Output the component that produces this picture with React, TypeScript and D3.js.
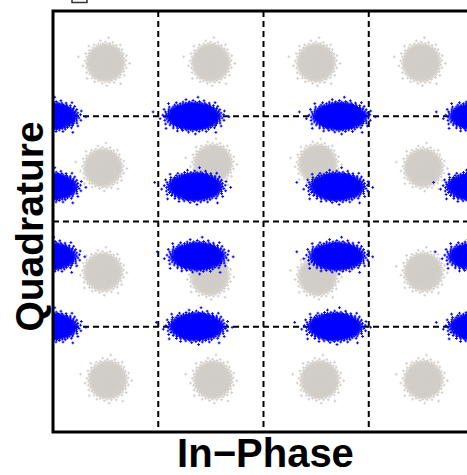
import React from 'react';
import * as d3 from 'd3';

const W = 467
const H = 475

// axis domain (In-Phase / Quadrature) and dashed grid positions
const iDomain = [-4, 4]
const qDomain = [-4, 4]
const gridTicks = [-2, 0, 2]

// gray reference constellation (cluster centres)
const grayI = [-3, -1, 1, 3, -3.05, -0.96, 1.03, 3.04, -3.05, -1.02, 1.03, 3.04, -2.96, -0.96, 1.07, 3.04]
const grayQ = [3.02, 3.02, 3.02, 3.02, 1.02, 1.1, 1.1, 1.02, -0.96, -1.04, -1.04, -0.96, -3.01, -3.01, -3.01, -3.01]

// received (blue) clusters
const blueI = [-4.05, -1.33, 1.45, 4.05, -4.05, -1.3, 1.4, 4.0, -4.07, -1.25, 1.4, 4.03, -4.05, -1.27, 1.36, 4.05]
const blueQ = [2.0, 2.0, 2.0, 2.0, 0.66, 0.66, 0.66, 0.66, -0.66, -0.66, -0.66, -0.66, -2.0, -2.0, -2.0, -2.0]

// cluster spread (data units)
const graySigma = 0.128
const blueSigmaI = 0.19
const blueSigmaQ = 0.098
const samplesPerCluster = 2500

const colors = {
  gray: '#d2cec8',
  blue: '#0000ff',
}

const margin = { left: 53, top: 11, right: 474, bottom: 432 }

// deterministic gaussian-like spread: quantile radius + golden-angle spiral
function cloudPath(cx, cy, sx, sy, n, arm) {
  const golden = Math.PI * (3 - Math.sqrt(5))
  let d = ''
  for (let i = 0; i < n; i++) {
    const u = (i + 0.5) / n
    const r = Math.sqrt(-2 * Math.log(1 - u))
    const t = i * golden
    const px = cx + sx * r * Math.cos(t)
    const py = cy + sy * r * Math.sin(t)
    d += `M${(px - arm).toFixed(1)},${py.toFixed(1)}h${2 * arm}M${px.toFixed(1)},${(py - arm).toFixed(1)}v${2 * arm}`
  }
  return d
}

export default function App() {
  const x = d3.scaleLinear().domain(iDomain).range([margin.left, margin.right])
  const y = d3.scaleLinear().domain(qDomain).range([margin.bottom, margin.top])
  const unitX = x(1) - x(0)
  const unitY = y(0) - y(1)

  const grayPaths = grayI.map((v, k) =>
    cloudPath(x(v), y(grayQ[k]), graySigma * unitX, graySigma * unitY, samplesPerCluster, 1.4)
  )
  const bluePaths = blueI.map((v, k) =>
    cloudPath(x(v), y(blueQ[k]), blueSigmaI * unitX, blueSigmaQ * unitY, samplesPerCluster, 1.4)
  )

  return (
    <svg
      width={W}
      height={H}
      style={{ position: 'absolute', left: 0, top: 0, background: 'white' }}
      fontFamily="'Liberation Sans', Arial, sans-serif"
    >
      <defs>
        <clipPath id="plot">
          <rect x={margin.left} y={margin.top} width={margin.right - margin.left} height={margin.bottom - margin.top} />
        </clipPath>
      </defs>

      {/* remnant of the legend box above the panel */}
      <path d="M72,0V2.5H87V0" fill="none" stroke="#333" strokeWidth={1.5} />

      <g clipPath="url(#plot)">
        {gridTicks.map(t => (
          <line key={'v' + t} x1={x(t)} x2={x(t)} y1={margin.top} y2={margin.bottom}
            stroke="black" strokeWidth={2} strokeDasharray="6,4" />
        ))}
        {gridTicks.map(t => (
          <line key={'h' + t} x1={margin.left} x2={margin.right} y1={y(t)} y2={y(t)}
            stroke="black" strokeWidth={2} strokeDasharray="6,4" />
        ))}
        {grayPaths.map((d, k) => (
          <path key={'g' + k} d={d} stroke={colors.gray} strokeWidth={1} fill="none" />
        ))}
        {bluePaths.map((d, k) => (
          <path key={'b' + k} d={d} stroke={colors.blue} strokeWidth={1} fill="none" />
        ))}
      </g>

      <rect x={margin.left} y={margin.top} width={margin.right - margin.left} height={margin.bottom - margin.top}
        fill="none" stroke="black" strokeWidth={3} />

      <text x={(margin.left + margin.right) / 2 + 2} y={467} textAnchor="middle" fontWeight="bold" fontSize={40}>
        In−Phase
      </text>
      <text transform={`translate(43,${(margin.top + margin.bottom) / 2 + 5}) rotate(-90)`} textAnchor="middle"
        fontWeight="bold" fontSize={39}>
        Quadrature
      </text>
    </svg>
  )
}
